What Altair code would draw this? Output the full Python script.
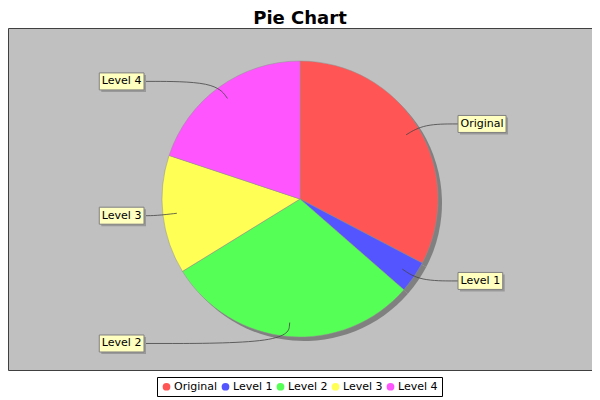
import altair as alt
import pandas as pd
import numpy as np

categories = ["Original", "Level 1", "Level 2", "Level 3", "Level 4"]
values = [32.7, 3.75, 29.8, 13.9, 19.9]
colors = ["#FF5555", "#5555FF", "#55FF55", "#FFFF55", "#FF55FF"]

# layout (pixels)
W, H = 584, 342
R = 138
R_LINK = 124
R_ELBOW = 145
BOX_H = 17
RIGHT_X = 158
LEFT_X = -156
FONT_PX = 11

# approximate DejaVu Sans advance widths (units per 2048 em)
_adv = {"O": 1612, "r": 842, "i": 569, "g": 1300, "n": 1298, "a": 1255, "l": 569,
        "L": 1141, "e": 1260, "v": 1212, " ": 651}


def text_w(s):
    return sum(_adv.get(ch, 1303) for ch in s) / 2048 * FONT_PX


df = pd.DataFrame({"category": categories, "value": values, "idx": list(range(len(values)))})

total = float(sum(values))
cum = np.cumsum([0.0] + values)
mid = (cum[:-1] + cum[1:]) / 2 / total * 2 * np.pi
sx, cy = np.sin(mid), np.cos(mid)
right = sx >= 0
label_y = R_ELBOW * cy
edge_x = np.where(right, RIGHT_X, LEFT_X)
box_w = np.array([text_w(c) + 5 for c in categories])
x1 = np.where(right, RIGHT_X, LEFT_X - box_w)
x2 = x1 + box_w

labels = pd.DataFrame({
    "category": categories,
    "cx": (x1 + x2) / 2,
    "cy": label_y,
    "x1": x1,
    "x2": x2,
    "y1": label_y - BOX_H / 2,
    "y2": label_y + BOX_H / 2,
})

rows = []
for i, c in enumerate(categories):
    rows.append({"category": c, "o": 0, "x": edge_x[i], "y": label_y[i]})
    rows.append({"category": c, "o": 1, "x": R_ELBOW * sx[i], "y": label_y[i]})
    rows.append({"category": c, "o": 2, "x": R_LINK * sx[i], "y": R_LINK * cy[i]})
links = pd.DataFrame(rows)

xs = alt.Scale(domain=[-W / 2, W / 2], nice=False, zero=False)
ys = alt.Scale(domain=[-H / 2, H / 2], nice=False, zero=False)

base = alt.Chart(df)

shadow = base.mark_arc(radius=R, color="#808080", xOffset=4, yOffset=4).encode(
    theta=alt.Theta("value:Q", stack=True),
    order=alt.Order("idx:Q"),
)

pie = base.mark_arc(radius=R, stroke="#909090", strokeWidth=0.5).encode(
    theta=alt.Theta("value:Q", stack=True),
    order=alt.Order("idx:Q"),
    color=alt.Color(
        "category:N",
        sort=categories,
        scale=alt.Scale(domain=categories, range=colors),
        legend=alt.Legend(
            title=None,
            orient="none",
            legendX=149,
            legendY=349,
            direction="horizontal",
            symbolType="circle",
            symbolSize=60,
            symbolStrokeWidth=0,
            labelFont="DejaVu Sans",
            labelFontSize=11,
            labelColor="black",
            labelOffset=2,
            columnPadding=2,
            padding=4,
            strokeColor="black",
            fillColor="white",
        ),
    ),
)

lines = alt.Chart(links).mark_line(interpolate="basis", color="#444444", strokeWidth=0.8).encode(
    x=alt.X("x:Q", scale=xs, axis=None),
    y=alt.Y("y:Q", scale=ys, axis=None),
    detail="category:N",
    order="o:Q",
)

lab = alt.Chart(labels)
box_shadow = lab.mark_rect(color="#999999", xOffset=2, x2Offset=2, yOffset=2, y2Offset=2).encode(
    x=alt.X("x1:Q", scale=xs, axis=None), x2="x2:Q",
    y=alt.Y("y1:Q", scale=ys, axis=None), y2="y2:Q",
)
box = lab.mark_rect(fill="#FFFFC0", stroke="#808080", strokeWidth=1).encode(
    x=alt.X("x1:Q", scale=xs, axis=None), x2="x2:Q",
    y=alt.Y("y1:Q", scale=ys, axis=None), y2="y2:Q",
)
text = lab.mark_text(font="DejaVu Sans", fontSize=FONT_PX, color="black", baseline="middle", align="center").encode(
    x=alt.X("cx:Q", scale=xs, axis=None),
    y=alt.Y("cy:Q", scale=ys, axis=None),
    text="category:N",
)

chart = alt.layer(shadow, pie, lines, box_shadow, box, text).properties(
    width=W,
    height=H,
    title=alt.TitleParams("Pie Chart", font="DejaVu Sans", fontSize=18, fontWeight="bold",
                          color="black", anchor="middle", offset=0),
    autosize=alt.AutoSizeParams(type="none"),
    padding={"left": 0, "top": 20, "right": 0, "bottom": 30},
).configure_view(fill="#C0C0C0", stroke="#404040", strokeWidth=1)

chart.save("out.html", embed_options={"renderer": "svg", "actions": False})
